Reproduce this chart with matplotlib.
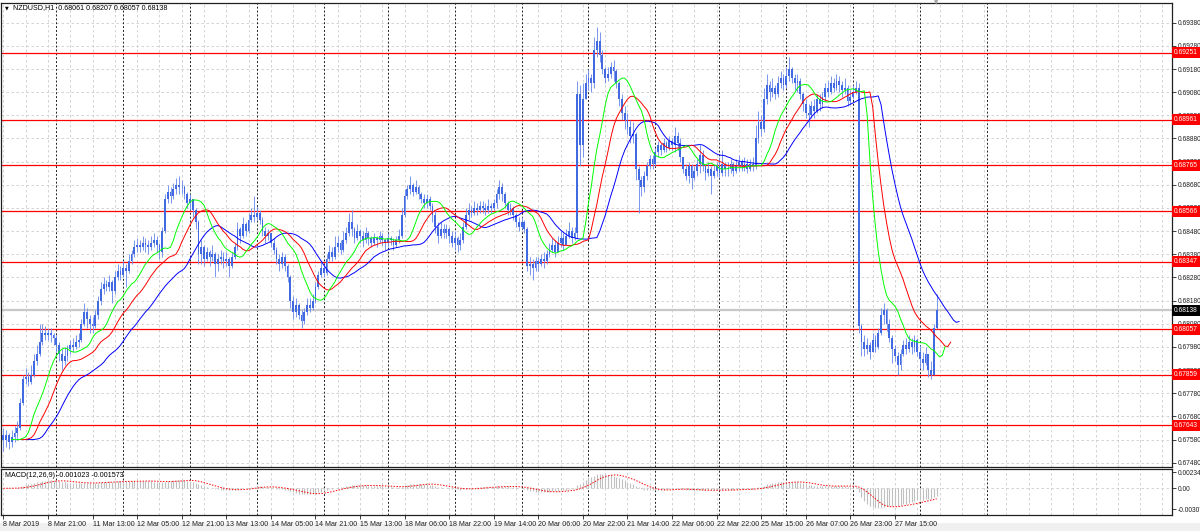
import numpy as np
import pandas as pd
import matplotlib
matplotlib.use("Agg")
import matplotlib.pyplot as plt
import matplotlib.transforms as mtransforms
from matplotlib.patches import Rectangle

# NZDUSD H1 bars, prices in pips above 0.6700
first_open = 60
close = [
    58, 60, 57, 59, 61, 63, 74, 84, 85, 83, 86, 92, 95, 100, 104, 103,
    104, 103, 102, 99, 95, 92, 94, 97, 99, 98, 100, 101, 108, 113, 110, 108,
    107, 112, 118, 123, 125, 124, 126, 122, 128, 131, 129, 132, 131, 135, 138, 141,
    142, 141, 143, 142, 141, 143, 144, 142, 139, 148, 162, 165, 163, 166, 168, 167,
    167, 164, 160, 162, 157, 152, 138, 141, 136, 139, 137, 138, 134, 136, 137, 135,
    136, 133, 137, 141, 149, 146, 151, 148, 153, 155, 154, 156, 153, 148, 146, 147,
    143, 140, 136, 134, 137, 133, 128, 118, 113, 116, 112, 109, 113, 116, 115, 118,
    124, 129, 132, 130, 136, 139, 137, 141, 143, 140, 144, 147, 152, 149, 145, 148,
    146, 144, 147, 145, 143, 145, 144, 146, 144, 143, 145, 144, 142, 144, 146, 155,
    163, 166, 168, 165, 167, 164, 162, 160, 162, 159, 155, 150, 146, 149, 147, 149,
    146, 143, 145, 142, 144, 150, 155, 157, 156, 158, 157, 159, 158, 157, 159, 158,
    160, 164, 167, 164, 160, 157, 158, 155, 152, 150, 152, 149, 133, 134, 132, 135,
    134, 136, 135, 138, 140, 142, 139, 143, 145, 142, 146, 148, 145, 147, 207, 185,
    205, 212, 214, 212, 226, 230, 224, 218, 214, 216, 219, 217, 212, 205, 199, 196,
    193, 189, 190, 175, 170, 167, 172, 176, 179, 177, 182, 185, 183, 186, 184, 187,
    185, 189, 186, 180, 175, 172, 176, 171, 174, 177, 181, 176, 173, 175, 172, 174,
    176, 173, 177, 175, 175, 177, 174, 176, 178, 176, 177, 175, 177, 176, 188, 195,
    192, 205, 211, 208, 210, 207, 212, 214, 211, 215, 218, 214, 212, 213, 207, 203,
    199, 198, 202, 200, 205, 203, 206, 210, 208, 212, 210, 213, 211, 209, 210, 204,
    206, 208, 210, 107, 100, 97, 99, 96, 101, 98, 104, 112, 114, 108, 102, 97,
    94, 90, 95, 99, 97, 100, 98, 101, 96, 93, 91, 95, 88, 86, 106.1, 113.8,
]
high = [
    63, 62, 61, 62, 64, 66, 76, 86, 89, 87, 90, 95, 99, 108, 108, 107,
    106, 106, 104, 103, 100, 97, 98, 99, 101, 102, 103, 104, 110, 117, 115, 112,
    111, 114, 120, 126, 128, 127, 129, 127, 131, 134, 133, 135, 134, 138, 140, 144,
    145, 144, 146, 145, 144, 146, 147, 146, 143, 150, 164, 168, 167, 169, 171, 172,
    170, 168, 165, 164, 162, 158, 153, 144, 142, 141, 140, 142, 139, 138, 140, 139,
    139, 137, 139, 143, 152, 150, 154, 152, 156, 158, 163, 159, 157, 154, 150, 149,
    147, 145, 141, 138, 139, 138, 134, 129, 120, 119, 117, 114, 115, 119, 119, 121,
    126, 131, 135, 134, 138, 142, 141, 146, 146, 144, 148, 150, 156, 157, 150, 151,
    149, 148, 150, 148, 146, 147, 146, 148, 147, 145, 147, 146, 145, 146, 149, 158,
    166, 168, 172, 169, 170, 168, 165, 164, 164, 163, 160, 157, 152, 152, 151, 151,
    150, 148, 148, 146, 147, 152, 158, 160, 159, 161, 160, 161, 161, 160, 162, 160,
    162, 166, 170, 169, 165, 161, 160, 159, 156, 154, 154, 153, 150, 137, 136, 137,
    137, 138, 139, 140, 143, 145, 144, 146, 148, 147, 149, 152, 150, 150, 213, 211,
    212, 216, 218, 216, 232, 236, 234, 226, 219, 219, 221, 222, 218, 213, 207, 202,
    199, 196, 195, 191, 176, 172, 174, 178, 181, 181, 184, 187, 186, 188, 187, 189,
    188, 193, 191, 188, 180, 177, 178, 177, 176, 179, 185, 183, 177, 178, 176, 177,
    178, 180, 183, 178, 178, 179, 178, 179, 181, 179, 180, 179, 179, 180, 194, 200,
    198, 210, 216, 213, 214, 211, 215, 217, 216, 219, 223, 219, 216, 216, 214, 208,
    205, 203, 204, 205, 207, 207, 208, 212, 213, 215, 214, 216, 215, 213, 214, 211,
    209, 211, 213, 212, 108, 103, 102, 100, 104, 103, 106, 115, 117, 115, 110, 103,
    99, 96, 97, 101, 102, 103, 102, 103, 102, 99, 96, 98, 95, 92, 108, 120.7,
]
low = [
    53, 55, 54, 55, 57, 58, 62, 73, 82, 81, 82, 85, 90, 94, 99, 101,
    101, 100, 99, 96, 92, 88, 90, 92, 95, 96, 97, 98, 100, 107, 106, 104,
    104, 106, 110, 116, 121, 122, 122, 117, 121, 127, 127, 128, 124, 130, 134, 137,
    139, 139, 140, 139, 138, 140, 141, 139, 136, 137, 147, 160, 160, 162, 164, 164,
    164, 162, 158, 157, 154, 149, 134, 134, 133, 135, 133, 135, 128, 131, 134, 132,
    133, 128, 132, 136, 140, 143, 145, 146, 147, 152, 152, 153, 151, 146, 143, 144,
    141, 138, 134, 131, 132, 131, 126, 115, 110, 111, 110, 106, 108, 112, 113, 114,
    117, 123, 128, 128, 129, 135, 135, 136, 139, 138, 139, 143, 146, 146, 143, 144,
    143, 141, 143, 142, 141, 142, 141, 143, 142, 140, 141, 142, 140, 141, 143, 145,
    154, 162, 164, 163, 164, 162, 160, 158, 158, 157, 152, 147, 143, 145, 145, 145,
    143, 141, 140, 139, 140, 143, 149, 153, 154, 155, 155, 156, 156, 155, 156, 156,
    157, 158, 162, 161, 158, 155, 155, 153, 150, 148, 149, 147, 131, 129, 127, 131,
    131, 133, 132, 134, 137, 139, 137, 140, 141, 140, 143, 145, 143, 144, 145, 176,
    180, 205, 209, 208, 210, 223, 221, 216, 212, 213, 214, 213, 210, 202, 196, 192,
    190, 186, 186, 170, 156, 163, 165, 170, 175, 175, 176, 180, 181, 182, 182, 183,
    183, 182, 183, 178, 173, 170, 169, 166, 170, 172, 173, 174, 170, 172, 164, 171,
    172, 171, 172, 172, 172, 173, 172, 173, 174, 174, 174, 173, 174, 174, 175, 186,
    189, 191, 203, 204, 206, 205, 206, 210, 209, 210, 213, 212, 209, 208, 205, 200,
    197, 193, 197, 197, 199, 200, 201, 204, 206, 207, 208, 209, 208, 206, 207, 202,
    203, 205, 207, 104, 94, 94, 95, 93, 96, 96, 97, 103, 108, 105, 100, 91,
    92, 86, 88, 94, 95, 96, 95, 96, 94, 89, 88, 90, 85, 84, 86, 105.7,
]

levels = [0.69251, 0.68961, 0.68765, 0.68566, 0.68347, 0.68057, 0.67859, 0.67643]
bid = 0.68138
price_ticks = [0.69380, 0.69280, 0.69180, 0.69080, 0.68980, 0.68880, 0.68780,
               0.68680, 0.68580, 0.68480, 0.68380, 0.68280, 0.68180, 0.68080,
               0.67980, 0.67880, 0.67780, 0.67680, 0.67580, 0.67480]
time_labels = ['8 Mar 2019', '8 Mar 21:00', '11 Mar 13:00', '12 Mar 05:00',
               '12 Mar 21:00', '13 Mar 13:00', '14 Mar 05:00', '14 Mar 21:00',
               '15 Mar 13:00', '18 Mar 06:00', '18 Mar 22:00', '19 Mar 14:00',
               '20 Mar 06:00', '20 Mar 22:00', '21 Mar 14:00', '22 Mar 06:00',
               '22 Mar 22:00', '25 Mar 15:00', '26 Mar 07:00', '26 Mar 23:00',
               '27 Mar 15:00']
label_bars = [16 * k for k in range(len(time_labels))]
day_breaks = [19, 43, 67, 91, 115, 138, 162, 186, 210, 234, 257, 281, 305, 329, 353]

# --- build series ---
c = np.array(close, dtype=float) / 10000 + 0.67
h = np.array(high, dtype=float) / 10000 + 0.67
l = np.array(low, dtype=float) / 10000 + 0.67
o = np.concatenate([[first_open / 10000 + 0.67], c[:-1]])
o[-1] = 0.68061
n = len(c)
idx = np.arange(n)

med = pd.Series((h + l) / 2)
jaw = med.ewm(alpha=1 / 13, adjust=False).mean()
teeth = med.ewm(alpha=1 / 8, adjust=False).mean()
lips = med.ewm(alpha=1 / 5, adjust=False).mean()

cs = pd.Series(c)
macd = cs.ewm(span=12, adjust=False).mean() - cs.ewm(span=26, adjust=False).mean()
signal = macd.rolling(9, min_periods=1).mean()

# --- figure ---
W, H = 1200, 531
plt.rcParams['font.family'] = ['Liberation Sans', 'DejaVu Sans']
fig = plt.figure(figsize=(W / 100, H / 100), dpi=100)
fs = 4.8

def box(x0, y0, x1, y1):
    return [x0 / W, 1 - y1 / H, (x1 - x0) / W, (y1 - y0) / H]

ax = fig.add_axes(box(1, 3, 1172, 466.7))
axm = fig.add_axes(box(1, 468.5, 1172, 515))
xl = (-0.86, 419.45)

for a in (ax, axm):
    a.set_xlim(*xl)
    for g in range(0, 420, 8):
        a.axvline(g, color='#cccccc', lw=0.6, ls=(0, (3, 3)), zorder=0)
    for d in day_breaks:
        a.axvline(d, color='#202020', lw=0.7, ls=(0, (2, 2)), zorder=0.5)
    for s in a.spines.values():
        s.set_color('#202020')
        s.set_linewidth(0.9)

ax.set_ylim(0.67463, 0.69465)
for p in price_ticks:
    ax.axhline(p, color='#cccccc', lw=0.6, ls=(0, (3, 3)), zorder=0)
ax.axhline(bid, color='#c8c8c8', lw=1.6, zorder=1)
for lv in levels:
    ax.axhline(lv, color='#ff0000', lw=0.9, zorder=2)

# candles
blue = '#4169e1'
ax.vlines(idx, l, h, color='#6f8fec', lw=0.65, zorder=3)
bot = np.minimum(o, c)
ht = np.maximum(np.abs(c - o), 0.00002)
ax.bar(idx, ht, bottom=bot, width=0.65, color=blue, lw=0, zorder=3)

# alligator
ax.plot(idx + 8, jaw, color='#0000ff', lw=0.7, zorder=4)
ax.plot(idx + 5, teeth, color='#ff0000', lw=0.7, zorder=4)
ax.plot(idx + 3, lips, color='#00ff00', lw=0.7, zorder=4)

ax.yaxis.tick_right()
ax.set_yticks(price_ticks)
ax.set_yticklabels([f'{p:.5f}' for p in price_ticks])
ax.tick_params(axis='y', labelsize=fs, length=3, width=0.6, pad=1.2, colors='#202020')
ax.tick_params(axis='x', bottom=False, labelbottom=False)

trans = mtransforms.blended_transform_factory(ax.transAxes, ax.transData)
for lv in levels:
    ax.text(1.0015, lv, f'{lv:.5f}', transform=trans, ha='left', va='center',
            color='white', fontsize=fs, clip_on=False, zorder=10,
            bbox=dict(boxstyle='square,pad=0.3', fc='#ff0000', ec='none'))
ax.text(1.0015, bid, f'{bid:.5f}', transform=trans, ha='left', va='center',
        color='white', fontsize=fs, clip_on=False, zorder=10,
        bbox=dict(boxstyle='square,pad=0.3', fc='#000000', ec='none'))

ax.text(4 / 1171, 1 - 5 / 463.7, '\u25bc', transform=ax.transAxes, fontsize=3.5,
        va='center', ha='left', family=['DejaVu Sans'])
ax.text(12 / 1171, 1 - 5 / 463.7, 'NZDUSD,H1  0.68061 0.68207 0.68057 0.68138',
        transform=ax.transAxes, fontsize=5.1, va='center', ha='left')

# MACD
axm.set_ylim(-0.00389, 0.00288)
axm.axhline(0, color='#cccccc', lw=0.6, ls=(0, (3, 3)), zorder=0)
axm.vlines(idx, 0, macd, color='#c0c0c0', lw=0.8, zorder=2)
axm.plot(idx, signal, color='#ff0000', lw=0.7, ls=(0, (1.5, 1.5)), zorder=3)
axm.text(4 / 1171, 0.86, 'MACD(12,26,9) -0.001023 -0.001573', transform=axm.transAxes,
         fontsize=5.1, va='center', ha='left')
axm.yaxis.tick_right()
axm.set_yticks([0.002344, 0.0, -0.00307])
axm.set_yticklabels(['0.002344', '0.00', '-0.00307'])
axm.tick_params(axis='y', labelsize=fs, length=3, width=0.6, pad=1.2, colors='#202020')
axm.set_xticks(label_bars)
axm.set_xticklabels(time_labels, ha='left')
axm.tick_params(axis='x', labelsize=5.1, length=3, width=0.6, pad=1.2, colors='#202020')

# window chrome
fig.patches.append(Rectangle((0, 0), 1, 8 / H, transform=fig.transFigure,
                             fc='#f0f0f0', ec='none', zorder=-1))
fig.text(936 / W, 1 - 3 / H, '\u25bc', fontsize=4, color='#a0a0a0',
         ha='center', va='center', family=['DejaVu Sans'])

fig.savefig('out.png', dpi=100)
